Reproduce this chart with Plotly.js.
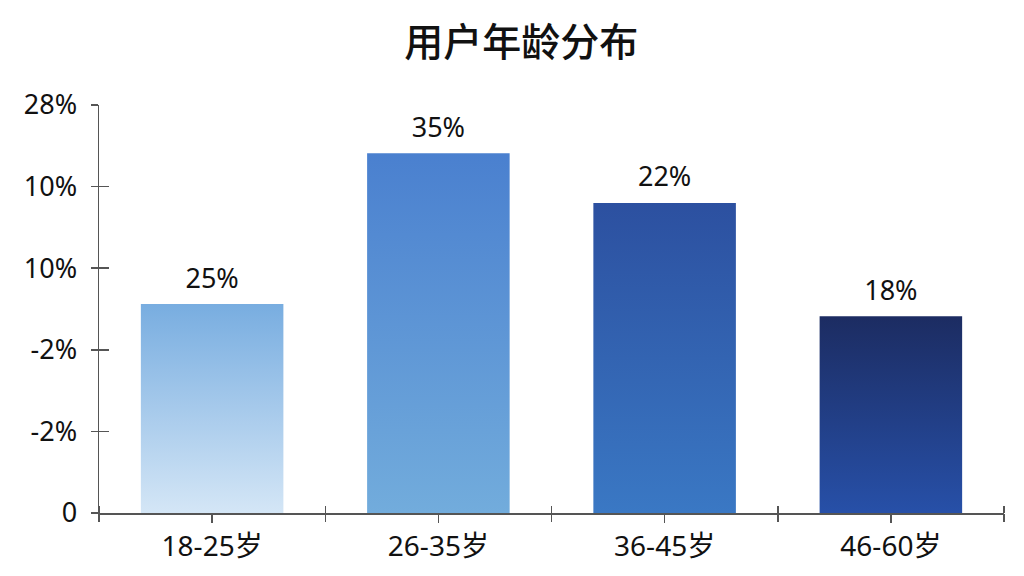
<!DOCTYPE html>
<html>
<head>
<meta charset="utf-8">
<script src="https://cdn.plot.ly/plotly-3.0.1.min.js"></script>
<style>
  html, body { margin: 0; padding: 0; background: #fff; }
  #chart { width: 1024px; height: 576px; }
</style>
</head>
<body>
<div id="chart"></div>
<script>
// Categories and values
const categories = ['18-25岁', '26-35岁', '36-45岁', '46-60岁'];
// bar heights measured against the axis ticks (one unit = one tick step)
const barHeights = [2.56, 4.41, 3.80, 2.41];
// labels printed above the bars
const barLabels = ['25%', '35%', '22%', '18%'];
// y ticks as printed in the picture
const yTickVals = [0, 1, 2, 3, 4, 5];
const yTickText = ['0', '-2%', '-2%', '10%', '10%', '28%'];
// gradient colours per bar, bottom -> top
const barBottom = ['#d4e6f6', '#72acdc', '#3a78c4', '#2750a8'];
const barTop = ['#78ade0', '#4a80cf', '#2c50a0', '#1c2c62'];

function drawChart() {
  const fontFam = '"Noto Sans", "Noto Sans CJK SC", sans-serif';
  const axisCol = '#555555';
  const barWidth = 0.63;
  const xIdx = categories.map((c, i) => i);
  const bounds = [-0.5, 0.5, 1.5, 2.5, 3.5];

  let traces = [];

  // bars drawn as filled shapes so they can carry a vertical gradient
  barHeights.forEach((h, i) => {
    let x0 = i - barWidth / 2;
    let x1 = i + barWidth / 2;
    traces.push({
      type: 'scatter',
      mode: 'none',
      x: [x0, x0, x1, x1, x0],
      y: [0, h, h, 0, 0],
      fill: 'toself',
      fillgradient: {
        type: 'vertical',
        start: 0,
        stop: h,
        colorscale: [[0, barBottom[i]], [1, barTop[i]]],
      },
      hoverinfo: 'skip',
      showlegend: false,
    });
  });

  // value labels (invisible marker pushes the text up a little)
  traces.push({
    type: 'scatter',
    mode: 'markers+text',
    x: xIdx,
    y: barHeights,
    text: barLabels,
    textposition: 'top center',
    marker: { size: 14, opacity: 0 },
    textfont: { family: fontFam, size: 27, color: '#111' },
    hoverinfo: 'skip',
    showlegend: false,
    cliponaxis: false,
  });

  // empty trace so the helper axes (crossing ticks) get drawn
  traces.push({
    type: 'scatter', mode: 'none', x: [0], y: [0],
    xaxis: 'x2', yaxis: 'y2', hoverinfo: 'skip', showlegend: false,
  });

  let layout = {
    width: 1024,
    height: 576,
    margin: { l: 99, r: 20, t: 105, b: 63 },
    paper_bgcolor: '#ffffff',
    plot_bgcolor: '#ffffff',
    showlegend: false,
    hovermode: false,
    title: {
      text: '用户年龄分布',
      x: 0.509,
      xanchor: 'center',
      y: 0.927,
      yanchor: 'middle',
      font: { family: '"Noto Sans CJK SC", sans-serif', size: 39, weight: 500, color: '#111' },
    },
    xaxis: {
      range: [-0.5, 3.5],
      tickmode: 'array',
      tickvals: xIdx,
      ticktext: categories,
      ticks: 'outside',
      ticklen: 8,
      tickwidth: 1.5,
      tickcolor: axisCol,
      showline: true,
      linecolor: axisCol,
      linewidth: 1.5,
      showgrid: false,
      zeroline: false,
      fixedrange: true,
      tickfont: { family: fontFam, size: 28, color: '#111' },
      minor: {
        tickmode: 'array',
        tickvals: bounds,
        ticks: 'inside',
        ticklen: 7,
        tickwidth: 1.5,
        tickcolor: axisCol,
        showgrid: false,
      },
    },
    xaxis2: {
      overlaying: 'x',
      anchor: 'y',
      range: [-0.5, 3.5],
      tickmode: 'array',
      tickvals: bounds,
      ticks: 'outside',
      ticklen: 8,
      tickwidth: 1.5,
      tickcolor: axisCol,
      showticklabels: false,
      showline: false,
      showgrid: false,
      zeroline: false,
      fixedrange: true,
    },
    yaxis: {
      range: [0, 5],
      tickmode: 'array',
      tickvals: yTickVals,
      ticktext: yTickText,
      ticks: 'outside',
      ticklen: 7,
      tickwidth: 1.5,
      tickcolor: axisCol,
      ticklabelstandoff: 8,
      showline: true,
      linecolor: axisCol,
      linewidth: 1.5,
      showgrid: false,
      zeroline: false,
      fixedrange: true,
      tickfont: { family: fontFam, size: 27, color: '#111' },
    },
    yaxis2: {
      overlaying: 'y',
      anchor: 'x',
      side: 'left',
      range: [0, 5],
      tickmode: 'array',
      tickvals: yTickVals,
      ticks: 'inside',
      ticklen: 10,
      tickwidth: 1.5,
      tickcolor: axisCol,
      showticklabels: false,
      showline: false,
      showgrid: false,
      zeroline: false,
      fixedrange: true,
    },
  };

  let config = { displayModeBar: false, staticPlot: true };

  Plotly.newPlot(document.getElementById('chart'), traces, layout, config);
}
drawChart();
</script>
</body>
</html>
